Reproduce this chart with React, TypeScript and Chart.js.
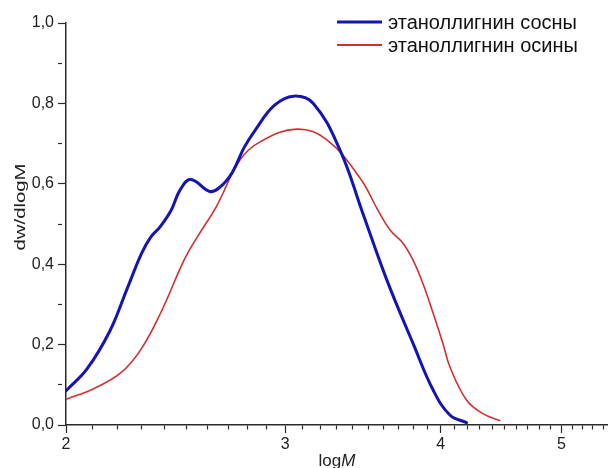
import React, { useEffect, useRef } from 'react';
import { Chart, registerables } from 'chart.js';

Chart.register(...registerables);

// ---------- data ----------
const seriesNames = ['этаноллигнин сосны', 'этаноллигнин осины'];

const pineLogM = [2.0, 2.08, 2.17, 2.24, 2.3, 2.34, 2.38, 2.43, 2.47, 2.52, 2.609, 2.66, 2.72, 2.78, 2.84, 2.94, 3.046, 3.16, 3.32, 3.46, 3.62, 3.8, 3.944, 4.068, 4.195];
const pineDw = [0.085, 0.14, 0.235, 0.34, 0.427, 0.468, 0.493, 0.535, 0.585, 0.611, 0.581, 0.592, 0.628, 0.69, 0.735, 0.795, 0.818, 0.8, 0.684, 0.53, 0.361, 0.203, 0.087, 0.025, 0.006];

const aspenLogM = [2.0, 2.107, 2.214, 2.296, 2.382, 2.488, 2.55, 2.642, 2.76, 2.866, 3.066, 3.24, 3.446, 3.56, 3.642, 3.73, 3.8, 3.87, 3.944, 4.016, 4.068, 4.195, 4.32, 4.46];
const aspenDw = [0.064, 0.091, 0.13, 0.187, 0.278, 0.41, 0.468, 0.544, 0.66, 0.705, 0.736, 0.709, 0.614, 0.535, 0.485, 0.452, 0.41, 0.352, 0.278, 0.203, 0.145, 0.062, 0.029, 0.011];

const xMajorTicks = [2, 3, 4, 5];
const yTickLabels = ['0,0', '0,2', '0,4', '0,6', '0,8', '1,0'];
const xTitleMain = 'log';
const xTitleItalic = 'M';
const yTitle = 'dw/dlogM';

// ---------- styles ----------
const BLUE = '#1414b4';
const RED = '#d03030';
const AXIS = '#2a2a2a';
const FONT = '"Liberation Sans", Arial, sans-serif';

const isMajorY = (v: number) => Math.round(v * 10) % 2 === 0;
const isMajorX = (v: number) => xMajorTicks.some((m) => Math.abs(m - v) < 1e-6);

const decorPlugin = {
  id: 'decor',
  afterDraw(chart: any) {
    const ctx = chart.ctx as CanvasRenderingContext2D;
    const area = chart.chartArea;
    ctx.save();

    // legend
    const rows = [
      { y: 22, color: BLUE, w: 3, label: seriesNames[0] },
      { y: 45, color: RED, w: 2, label: seriesNames[1] },
    ];
    ctx.font = `20px ${FONT}`;
    ctx.textBaseline = 'middle';
    ctx.textAlign = 'left';
    rows.forEach((r) => {
      ctx.beginPath();
      ctx.strokeStyle = r.color;
      ctx.lineWidth = r.w;
      ctx.moveTo(337, r.y);
      ctx.lineTo(382, r.y);
      ctx.stroke();
      ctx.fillStyle = '#111';
      ctx.fillText(r.label, 388, r.y + 1);
    });

    // x title
    ctx.textBaseline = 'alphabetic';
    ctx.fillStyle = '#222';
    ctx.font = `17px ${FONT}`;
    const w1 = ctx.measureText(xTitleMain).width;
    ctx.font = `italic 17px ${FONT}`;
    const w2 = ctx.measureText(xTitleItalic).width;
    const cx = (area.left + area.right) / 2;
    const sx = cx - (w1 + w2) / 2;
    ctx.font = `17px ${FONT}`;
    ctx.fillText(xTitleMain, sx, 466);
    ctx.font = `italic 17px ${FONT}`;
    ctx.fillText(xTitleItalic, sx + w1, 466);

    // y title (stretched along its length as in the reference)
    ctx.translate(25, 207);
    ctx.rotate(-Math.PI / 2);
    ctx.scale(1.45, 1);
    ctx.font = `14px ${FONT}`;
    ctx.textAlign = 'center';
    ctx.fillText(yTitle, 0, 0);

    ctx.restore();
  },
};

export default function App() {
  const canvasRef = useRef<HTMLCanvasElement | null>(null);

  useEffect(() => {
    document.body.style.margin = '0';
    const canvas = canvasRef.current;
    if (!canvas) return;

    const chart = new Chart(canvas, {
      type: 'line',
      data: {
        datasets: [
          {
            label: seriesNames[0],
            data: pineLogM.map((x, i) => ({ x, y: pineDw[i] })),
            borderColor: BLUE,
            borderWidth: 3,
            pointRadius: 0,
            tension: 0.4,
            borderCapStyle: 'round',
            borderJoinStyle: 'round',
            fill: false,
          },
          {
            label: seriesNames[1],
            data: aspenLogM.map((x, i) => ({ x, y: aspenDw[i] })),
            borderColor: RED,
            borderWidth: 1.6,
            pointRadius: 0,
            tension: 0.4,
            borderCapStyle: 'round',
            fill: false,
          },
        ],
      },
      options: {
        animation: false,
        responsive: true,
        maintainAspectRatio: false,
        layout: { padding: { top: 23, right: 0, left: 0, bottom: 0 } },
        plugins: {
          legend: { display: false },
          tooltip: { enabled: false },
        },
        scales: {
          x: {
            type: 'logarithmic',
            min: 2,
            max: 5.45,
            afterBuildTicks: (scale: any) => {
              const t: any[] = [];
              for (let i = 20; i <= 54; i++) t.push({ value: i / 10 });
              scale.ticks = t;
            },
            afterFit: (scale: any) => {
              scale.height = 43;
            },
            grid: {
              drawOnChartArea: false,
              tickLength: 8,
              tickColor: AXIS,
              tickWidth: 1.2,
              tickBorderDash: (c: any) => (c.tick && !isMajorX(c.tick.value) ? [4, 40] : []),
            },
            border: { display: true, color: AXIS, width: 1.5 },
            ticks: {
              autoSkip: false,
              maxRotation: 0,
              minRotation: 0,
              padding: 2,
              color: '#222',
              font: { family: FONT, size: 16 },
              callback: (v: any) => {
                const m = xMajorTicks.find((k) => Math.abs(k - Number(v)) < 1e-6);
                return m !== undefined ? String(m) : '';
              },
            },
          },
          y: {
            type: 'linear',
            min: 0,
            max: 1,
            afterFit: (scale: any) => {
              scale.width = 66;
            },
            grid: {
              drawOnChartArea: false,
              tickLength: 8,
              tickColor: AXIS,
              tickWidth: 1.2,
              tickBorderDash: (c: any) => (c.tick && !isMajorY(c.tick.value) ? [4, 40] : []),
            },
            border: { display: true, color: AXIS, width: 1.5 },
            ticks: {
              stepSize: 0.1,
              autoSkip: false,
              padding: 4,
              color: '#222',
              font: { family: FONT, size: 16 },
              callback: (v: any) => {
                const i = Math.round(Number(v) * 10);
                return i % 2 === 0 ? yTickLabels[i / 2] : '';
              },
            },
          },
        },
      },
      plugins: [decorPlugin],
    } as any);

    return () => chart.destroy();
  }, []);

  return (
    <div style={{ position: 'relative', width: 608, height: 468 }}>
      <canvas ref={canvasRef} />
    </div>
  );
}
